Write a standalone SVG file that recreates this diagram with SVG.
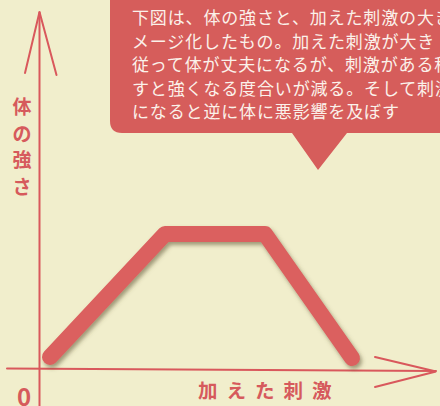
<svg xmlns="http://www.w3.org/2000/svg" width="440" height="406" viewBox="0 0 440 406">
  <style>
    .axis { stroke: #d9585c; stroke-width: 2; fill: none; stroke-linecap: round; }
    .lbl { fill: #d65a5c; font-family: "Noto Sans CJK JP", "Noto Sans", sans-serif; font-weight: bold; }
    .bt { fill: #fbf1ea; font-family: "Noto Sans CJK JP", "Noto Sans", sans-serif; font-size: 17px; letter-spacing: 0.85px; }
  </style>
  <defs>
    <filter id="sh" x="-10%" y="-10%" width="130%" height="130%">
      <feDropShadow dx="2" dy="3" stdDeviation="2" flood-color="#5a5030" flood-opacity="0.55"/>
    </filter>
  </defs>
  <rect width="440" height="406" fill="#f1eecc"/>

  <g id="bubble">
    <path d="M110,-5 L440,-5 L440,133 L347,133 L318,170 L292,133 L122,133 Q110,133 110,121 Z" fill="#d65d5b"/>
    <text class="bt" x="132" y="24">下図は、体の強さと、加えた刺激の大き</text>
    <text class="bt" x="132" y="47.5">メージ化したもの。加えた刺激が大き</text>
    <text class="bt" x="132" y="71">従って体が丈夫になるが、刺激がある程</text>
    <text class="bt" x="132" y="94.5">すと強くなる度合いが減る。そして刺激</text>
    <text class="bt" x="132" y="118">になると逆に体に悪影響を及ぼす</text>
  </g>

  <g id="connectors">
    <line class="axis" x1="39.5" y1="12" x2="39.5" y2="410"/>
    <polyline class="axis" points="25,73 39.5,12 56.5,75"/>
    <line class="axis" x1="7" y1="368.5" x2="436" y2="371"/>
    <polyline class="axis" points="375,357 436,371.5 375,387"/>
  </g>

  <g id="curve">
    <polyline points="50,357 165,234 265,234 352,358" fill="none" stroke="#db605e" stroke-width="16" stroke-linecap="round" stroke-linejoin="round" filter="url(#sh)"/>
  </g>

  <g id="y-label">
    <text class="lbl" font-size="19" x="22" y="114" text-anchor="middle">体</text>
    <text class="lbl" font-size="19" x="22" y="140.5" text-anchor="middle">の</text>
    <text class="lbl" font-size="19" x="22" y="167" text-anchor="middle">強</text>
    <text class="lbl" font-size="19" x="22" y="193.5" text-anchor="middle">さ</text>
  </g>
  <g id="origin">
    <text class="lbl" font-size="24" x="24" y="406" text-anchor="middle" font-family="'Liberation Sans', sans-serif">0</text>
  </g>
  <g id="x-label">
    <text class="lbl" font-size="19.5" x="198" y="398" letter-spacing="9">加えた刺激</text>
  </g>
</svg>
